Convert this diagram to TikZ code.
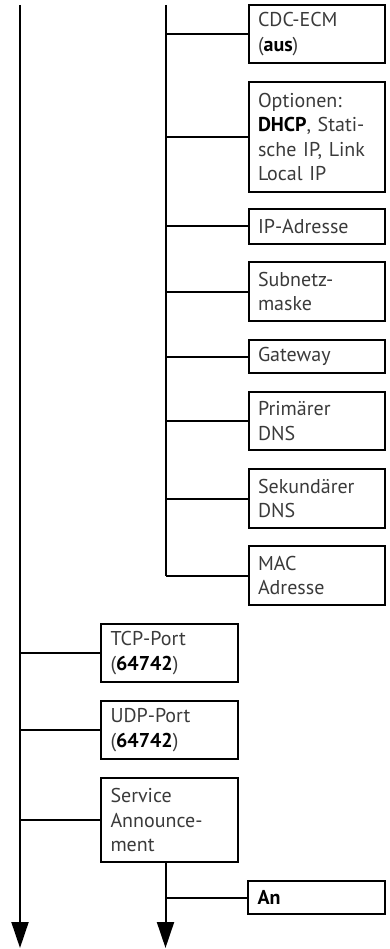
\documentclass[tikz,border=0pt]{standalone}
\usepackage{fontspec}
\setmainfont{PT Sans}
\usetikzlibrary{arrows.meta}
\definecolor{txt}{HTML}{3A3A3A}
\tikzset{
  box/.style={draw=black, line width=2.2pt, text=txt, align=left, anchor=center,
    minimum width=136pt, text width=118pt, inner xsep=9pt, inner ysep=0pt,
    font=\fontsize{20}{24.5}\selectfont},
  conn/.style={draw=black, line width=2pt},
  arr/.style={conn, -{Triangle[length=26pt,width=17pt]}},
}
\newcommand{\hb}[1]{\textbf{\color{black}#1}}
\begin{document}
\begin{tikzpicture}[x=1pt,y=-1pt]
\useasboundingbox (0,0) rectangle (390,949);
% right column boxes
\node[box, minimum height=58pt]  (cdc)  at (317,34)    {CDC-ECM\\(\hb{aus})};
\node[box, minimum height=110pt] (opt)  at (317,137)   {Optionen:\\\hb{DHCP}, Stati-\\sche IP, Link\\Local IP};
\node[box, minimum height=35pt]  (ip)   at (317,226.5) {IP-Adresse};
\node[box, minimum height=59pt]  (sub)  at (317,291.5) {Subnetz-\\maske};
\node[box, minimum height=33pt]  (gw)   at (317,356.5) {Gateway};
\node[box, minimum height=58pt]  (dns1) at (317,421)   {Primärer\\DNS};
\node[box, minimum height=59pt]  (dns2) at (317,498.5) {Sekundärer\\DNS};
\node[box, minimum height=59pt]  (mac)  at (317,575.5) {MAC\\Adresse};
% middle column boxes
\node[box, minimum width=137pt, minimum height=58pt] (tcp) at (169.5,653) {TCP-Port\\(\hb{64742})};
\node[box, minimum width=137pt, minimum height=58pt] (udp) at (169.5,730) {UDP-Port\\(\hb{64742})};
\node[box, minimum width=137pt, minimum height=84pt] (svc) at (169.5,820) {Service\\Announce-\\ment};
\node[box, minimum width=137pt, minimum height=33pt] (an)  at (316.5,897.5) {\hb{An}};
% trunk coordinates
\coordinate (ltop) at (20,5);
\coordinate (lend) at (20,948);
\coordinate (mtop) at (165.5,5);
\coordinate (mbot) at (165.5,575.5);
\coordinate (send) at (165.5,948);
% trunks
\draw[arr] (ltop) -- (lend);
\draw[conn] (mtop) -- (mbot);
\draw[arr] (mtop |- svc.south) -- (send);
% branches middle trunk
\foreach \n in {cdc,opt,ip,sub,gw,dns1,dns2,mac}
  \draw[conn] (mtop |- \n.west) -- (\n.west);
% branches left trunk
\foreach \n in {tcp,udp,svc}
  \draw[conn] (ltop |- \n.west) -- (\n.west);
\draw[conn] (mtop |- an.west) -- (an.west);
\end{tikzpicture}
\end{document}
